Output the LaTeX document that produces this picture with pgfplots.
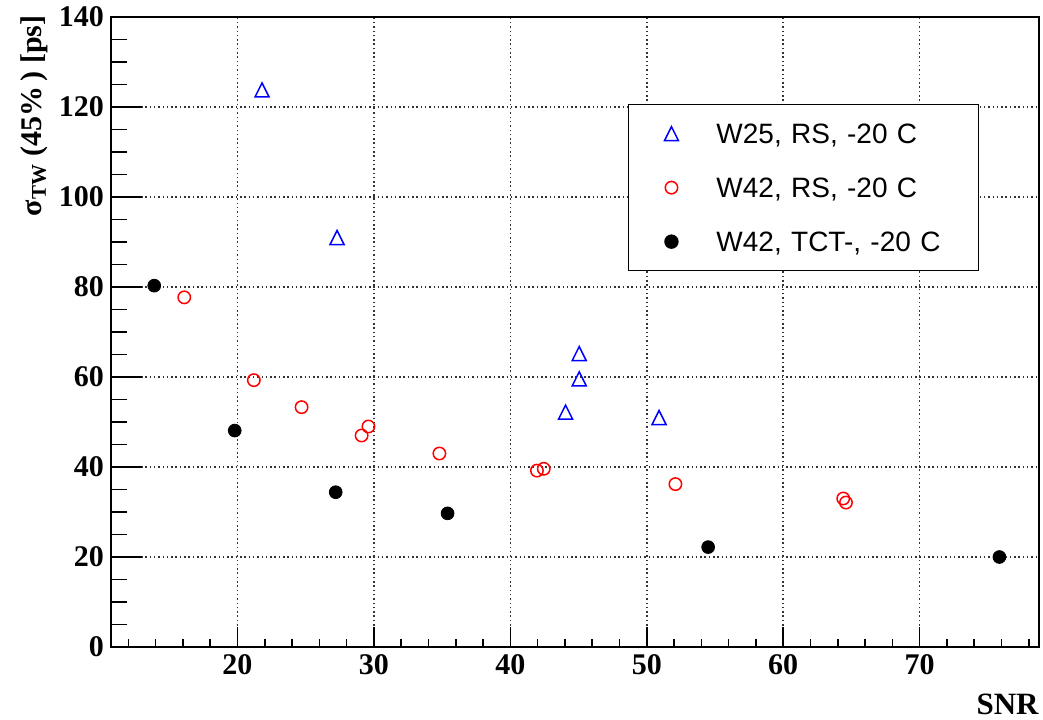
\documentclass[border=0pt]{standalone}
\usepackage{fontspec}
\setmainfont{Liberation Serif}
\newfontfamily\helv{Liberation Sans}
\usepackage{pgfplots}
\pgfplotsset{compat=1.18}
\pgfdeclareplotmark{rtri}{%
  \pgfpathmoveto{\pgfqpoint{0pt}{\pgfplotmarksize}}%
  \pgfpathlineto{\pgfqpoint{\pgfplotmarksize}{-\pgfplotmarksize}}%
  \pgfpathlineto{\pgfqpoint{-\pgfplotmarksize}{-\pgfplotmarksize}}%
  \pgfpathclose
  \pgfusepathqstroke}
\pgfplotsset{
  common/.style={
    scale only axis, width=464pt, height=315pt,
    xmin=10.73, xmax=78.75, ymin=0, ymax=140,
    axis line style={line width=1pt},
    major grid style={line width=0.75pt, black!80, dash pattern=on 0.75pt off 1.4pt},
  }
}
\begin{document}
\begin{tikzpicture}
% x ticks and x grid
\begin{axis}[common,
  xtick={20,30,...,70}, minor xtick={12,14,...,78},
  ytick=\empty, xticklabels=\empty,
  xtick pos=bottom, tick align=inside,
  major tick length=10pt, minor tick length=4pt,
  xtick style={line width=0.8pt, black},
  xmajorgrids,
]
\end{axis}
% main axis
\begin{axis}[common,
  xtick={20,30,...,70}, ytick={0,20,...,140},
  minor ytick={5,10,...,135},
  ytick pos=left, xtick pos=bottom, tick align=inside,
  major tick length=15.5pt, minor tick length=8pt,
  xtick style={draw=none},
  ytick style={line width=0.8pt, black},
  ymajorgrids,
  ticklabel style={font=\bfseries\fontsize{15}{15}\selectfont},
  /pgf/number format/assume math mode=true,
  xlabel={SNR},
  xlabel style={at={(axis description cs:1,-0.107)}, anchor=base east, inner sep=0pt,
    font=\bfseries\fontsize{15.5}{15.5}\selectfont},
  ylabel={σ\textsubscript{TW} (45\%\,) [ps]},
  ylabel style={at={(axis description cs:-0.0749,1.003)}, anchor=base east, inner sep=0pt,
    font=\bfseries\fontsize{15}{15}\selectfont},
  legend cell align=left,
  legend style={at={(axis cs:48.6,120.7)}, anchor=north west,
    draw=black, line width=0.8pt, fill=white,
    font=\helv\fontsize{14}{14}\selectfont,
    inner xsep=18pt, inner ysep=9.5pt, row sep=17pt,
    nodes={inner sep=0pt, text height=10pt, text depth=0pt, text width=113pt},
    /tikz/every odd column/.append style={column sep=19pt}},
]
\addplot[only marks, mark=rtri, mark size=3.5pt, color=blue, mark options={line width=0.75pt}]
  coordinates {(21.8,123.8) (27.3,91.0) (45.05,65.2) (45.05,59.6) (44.05,52.2) (50.9,51.0)};
\addlegendentry{W25, RS, -20 C}
\addplot[only marks, mark=o, mark size=3.1pt, color=red, mark options={line width=0.75pt}]
  coordinates {(16.1,77.7) (21.2,59.3) (24.7,53.3) (29.1,47.0) (29.6,49.0) (34.8,43.0)
    (41.95,39.2) (42.45,39.6) (52.1,36.2) (64.4,33.0) (64.6,32.1)};
\addlegendentry{W42, RS, -20 C}
\addplot[only marks, mark=*, mark size=3.2pt, color=black]
  coordinates {(13.9,80.3) (19.8,48.1) (27.2,34.4) (35.4,29.7) (54.5,22.2) (75.85,20.0)};
\addlegendentry{W42, TCT-, -20 C}
\coordinate (sw) at (rel axis cs:0,0);
\coordinate (ne) at (rel axis cs:1,1);
\end{axis}
\pgfresetboundingbox
\path[use as bounding box] ([xshift=-55.5pt,yshift=-36pt]sw) rectangle ([xshift=2pt,yshift=8.5pt]ne);
\end{tikzpicture}
\end{document}
